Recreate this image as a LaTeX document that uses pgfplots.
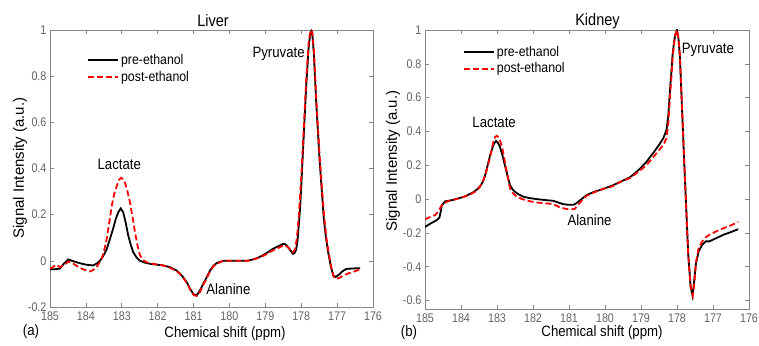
\documentclass[border=0pt]{standalone}
\usepackage{fontspec}
\setmainfont{Liberation Sans}
\usepackage{pgfplots}
\pgfplotsset{compat=1.18}
\usepackage{graphicx}
\definecolor{framegray}{RGB}{135,135,135}
\definecolor{labgray}{RGB}{100,100,100}
\newcommand{\cx}[1]{\scalebox{0.88}[1]{#1}}
\newcommand{\tx}[1]{\scalebox{0.86}[1]{#1}}
\pgfplotsset{
  legend image code/.code={\draw[#1] (0pt,0pt) -- (30pt,0pt);},
  mystyle/.style={
    scale only axis, anchor=south west,
    x dir=reverse, xmin=176, xmax=185,
    xtick={176,177,178,179,180,181,182,183,184,185},
    tick align=inside, major tick length=4pt,
    axis line style={framegray, line width=0.6pt},
    every tick/.style={framegray, line width=0.6pt},
    tick label style={font=\fontsize{12.5}{13}\selectfont, color=labgray},
    xticklabel style={yshift=-1.5pt},
    xticklabel={\tx{\pgfmathprintnumber[assume math mode=true]{\tick}}},
    yticklabel={\tx{\pgfmathprintnumber[assume math mode=true]{\tick}}},
    legend style={draw=none, fill=none, font=\fontsize{14}{14}\selectfont, row sep=1pt, inner sep=0pt},
    legend cell align=left,
    clip=true,
  },
  pre/.style={black, line width=1.8pt},
  post/.style={red, line width=1.8pt, dash pattern=on 6pt off 3pt},
}
\begin{document}
\begin{tikzpicture}[x=1pt,y=1pt]
\useasboundingbox (0,0) rectangle (759,345);
% ---------------- Liver ----------------
\begin{axis}[mystyle, at={(50pt,38pt)}, width=323pt, height=277pt,
  ymin=-0.2, ymax=1, ytick={-0.2,0,0.2,0.4,0.6,0.8,1},
  legend style={at={(0.115,0.92)}, anchor=north west}]
\addplot[pre] coordinates {
(185.0,-0.037) (184.85,-0.036) (184.73,-0.034) (184.6,-0.01) (184.49,0.006) (184.38,0.0) (184.26,-0.006) (184.1,-0.013) (183.98,-0.017) (183.8,-0.02) (183.7,-0.012) (183.61,0.0) (183.52,0.02) (183.42,0.05) (183.33,0.095) (183.24,0.14) (183.17,0.18) (183.1,0.21) (183.03,0.227) (182.96,0.21) (182.89,0.165) (182.82,0.11) (182.75,0.07) (182.68,0.037) (182.58,0.013) (182.49,0.0) (182.35,-0.008) (182.21,-0.013) (182.0,-0.017) (181.84,-0.02) (181.65,-0.028) (181.47,-0.042) (181.33,-0.063) (181.19,-0.092) (181.1,-0.12) (181.0,-0.145) (180.91,-0.149) (180.82,-0.128) (180.73,-0.1) (180.63,-0.07) (180.54,-0.042) (180.45,-0.022) (180.35,-0.009) (180.17,0.0) (179.5,0.0) (179.3,0.008) (179.17,0.016) (179.0,0.03) (178.79,0.052) (178.51,0.073) (178.44,0.072) (178.37,0.06) (178.3,0.045) (178.23,0.03) (178.18,0.035) (178.14,0.05) (178.1,0.09) (178.07,0.15) (178.03,0.23) (178.0,0.32) (177.93,0.54) (177.86,0.76) (177.79,0.93) (177.75,0.98) (177.72,0.995) (177.69,0.98) (177.65,0.9) (177.58,0.68) (177.49,0.44) (177.43,0.31) (177.37,0.18) (177.31,0.1) (177.25,0.037) (177.18,-0.02) (177.11,-0.063) (177.04,-0.07) (176.95,-0.06) (176.85,-0.045) (176.74,-0.035) (176.55,-0.033) (176.36,-0.032)
};
\addlegendentry{\cx{pre-ethanol}}
\addplot[post] coordinates {
(185.0,-0.034) (184.9,-0.025) (184.82,-0.017) (184.73,-0.027) (184.62,-0.02) (184.49,-0.003) (184.4,-0.008) (184.3,-0.017) (184.18,-0.03) (184.07,-0.037) (183.89,-0.046) (183.8,-0.04) (183.7,-0.027) (183.63,-0.01) (183.56,0.009) (183.49,0.045) (183.42,0.095) (183.35,0.165) (183.28,0.238) (183.21,0.29) (183.14,0.324) (183.08,0.35) (183.02,0.36) (182.96,0.353) (182.91,0.338) (182.84,0.3) (182.77,0.252) (182.7,0.19) (182.63,0.123) (182.56,0.065) (182.49,0.023) (182.4,0.003) (182.31,-0.006) (182.1,-0.014) (181.9,-0.018) (181.7,-0.027) (181.47,-0.044) (181.33,-0.065) (181.17,-0.1) (181.08,-0.13) (180.99,-0.149) (180.91,-0.152) (180.82,-0.135) (180.73,-0.104) (180.63,-0.075) (180.54,-0.046) (180.45,-0.024) (180.35,-0.012) (180.17,0.0) (179.5,0.0) (179.3,0.007) (179.17,0.014) (179.0,0.026) (178.79,0.045) (178.51,0.065) (178.44,0.066) (178.37,0.058) (178.3,0.048) (178.23,0.037) (178.17,0.05) (178.12,0.1) (178.08,0.17) (178.04,0.26) (178.0,0.36) (177.93,0.57) (177.86,0.79) (177.79,0.95) (177.75,0.99) (177.72,1.0) (177.69,0.99) (177.65,0.92) (177.58,0.7) (177.49,0.46) (177.43,0.33) (177.36,0.19) (177.3,0.1) (177.23,0.03) (177.16,-0.03) (177.1,-0.065) (177.06,-0.078) (176.95,-0.075) (176.84,-0.065) (176.7,-0.055) (176.5,-0.045) (176.36,-0.037)
};
\addlegendentry{\cx{post-ethanol}}
\node[font=\fontsize{15}{15}\selectfont] at (axis cs:178.63,0.896) {\cx{Pyruvate}};
\node[font=\fontsize{15}{15}\selectfont] at (axis cs:183.07,0.416) {\cx{Lactate}};
\node[font=\fontsize{15}{15}\selectfont] at (axis cs:180.03,-0.121) {\cx{Alanine}};
\end{axis}
% ---------------- Kidney ----------------
\begin{axis}[mystyle, at={(425pt,36pt)}, width=324pt, height=279pt,
  ymin=-0.65, ymax=1, ytick={-0.6,-0.4,-0.2,0,0.2,0.4,0.6,0.8,1},
  legend style={at={(0.117,0.95)}, anchor=north west}]
\addplot[pre] coordinates {
(185.0,-0.165) (184.85,-0.145) (184.68,-0.125) (184.6,-0.11) (184.56,-0.07) (184.53,-0.036) (184.44,-0.013) (184.3,-0.008) (184.21,-0.004) (183.94,0.012) (183.8,0.025) (183.66,0.04) (183.55,0.058) (183.47,0.075) (183.4,0.1) (183.33,0.14) (183.26,0.2) (183.19,0.26) (183.1,0.32) (183.03,0.345) (182.98,0.335) (182.92,0.31) (182.85,0.26) (182.78,0.2) (182.71,0.14) (182.64,0.083) (182.57,0.058) (182.5,0.043) (182.4,0.028) (182.27,0.014) (182.1,0.006) (181.9,0.0) (181.7,-0.005) (181.44,-0.01) (181.3,-0.02) (181.16,-0.03) (181.0,-0.034) (180.88,-0.034) (180.8,-0.025) (180.74,-0.015) (180.62,0.005) (180.51,0.024) (180.3,0.043) (180.05,0.06) (179.8,0.08) (179.59,0.1) (179.3,0.13) (179.05,0.175) (178.85,0.22) (178.67,0.27) (178.5,0.32) (178.38,0.36) (178.29,0.41) (178.24,0.5) (178.19,0.66) (178.15,0.77) (178.12,0.86) (178.08,0.93) (178.05,0.97) (178.0,1.0) (177.96,0.95) (177.92,0.84) (177.89,0.69) (177.85,0.48) (177.81,0.27) (177.77,0.073) (177.73,-0.12) (177.69,-0.32) (177.62,-0.52) (177.57,-0.57) (177.53,-0.5) (177.48,-0.39) (177.4,-0.31) (177.3,-0.27) (177.2,-0.25) (177.1,-0.25) (176.95,-0.235) (176.7,-0.21) (176.5,-0.195) (176.3,-0.178)
};
\addlegendentry{\cx{pre-ethanol}}
\addplot[post] coordinates {
(185.0,-0.12) (184.85,-0.105) (184.72,-0.095) (184.62,-0.07) (184.56,-0.045) (184.49,-0.025) (184.35,-0.012) (184.21,-0.004) (183.94,0.012) (183.8,0.022) (183.62,0.042) (183.5,0.065) (183.38,0.11) (183.3,0.16) (183.19,0.25) (183.1,0.34) (183.06,0.365) (183.01,0.375) (182.96,0.365) (182.92,0.35) (182.85,0.3) (182.78,0.22) (182.71,0.14) (182.64,0.065) (182.56,0.035) (182.46,0.015) (182.3,0.0) (182.1,-0.012) (181.9,-0.02) (181.7,-0.024) (181.5,-0.028) (181.35,-0.038) (181.25,-0.05) (181.1,-0.057) (181.02,-0.06) (180.92,-0.06) (180.84,-0.058) (180.75,-0.035) (180.65,-0.01) (180.51,0.02) (180.3,0.04) (180.05,0.06) (179.8,0.075) (179.59,0.1) (179.3,0.125) (179.05,0.165) (178.85,0.2) (178.67,0.245) (178.5,0.29) (178.38,0.32) (178.29,0.36) (178.24,0.45) (178.19,0.62) (178.15,0.74) (178.12,0.84) (178.08,0.92) (178.05,0.97) (178.0,1.0) (177.96,0.95) (177.92,0.85) (177.89,0.7) (177.85,0.49) (177.81,0.28) (177.77,0.08) (177.73,-0.12) (177.69,-0.32) (177.62,-0.52) (177.56,-0.57) (177.52,-0.5) (177.47,-0.37) (177.4,-0.29) (177.3,-0.25) (177.2,-0.225) (177.05,-0.205) (176.8,-0.18) (176.5,-0.155) (176.3,-0.135)
};
\addlegendentry{\cx{post-ethanol}}
\node[font=\fontsize{15}{15}\selectfont] at (axis cs:183.08,0.456) {\cx{Lactate}};
\node[font=\fontsize{15}{15}\selectfont] at (axis cs:177.14,0.883) {\cx{Pyruvate}};
\node[font=\fontsize{15}{15}\selectfont] at (axis cs:180.43,-0.124) {\cx{Alanine}};
\end{axis}
% ---------------- Titles and labels ----------------
\node[font=\fontsize{16.5}{16.5}\selectfont] at (213,324) {\cx{Liver}};
\node[font=\fontsize{16.5}{16.5}\selectfont] at (597.5,324) {\cx{Kidney}};
\node[font=\fontsize{15}{15}\selectfont] at (225,11) {\cx{Chemical shift (ppm)}};
\node[font=\fontsize{15}{15}\selectfont] at (602,12) {\cx{Chemical shift (ppm)}};
\node[font=\fontsize{15}{15}\selectfont, rotate=90] at (20,177) {Signal Intensity (a.u.)};
\node[font=\fontsize{15}{15}\selectfont, rotate=90] at (393,184) {Signal Intensity (a.u.)};
\node[font=\fontsize{15}{15}\selectfont] at (31,13) {\cx{(a)}};
\node[font=\fontsize{15}{15}\selectfont] at (409,12) {\cx{(b)}};
\end{tikzpicture}
\end{document}
